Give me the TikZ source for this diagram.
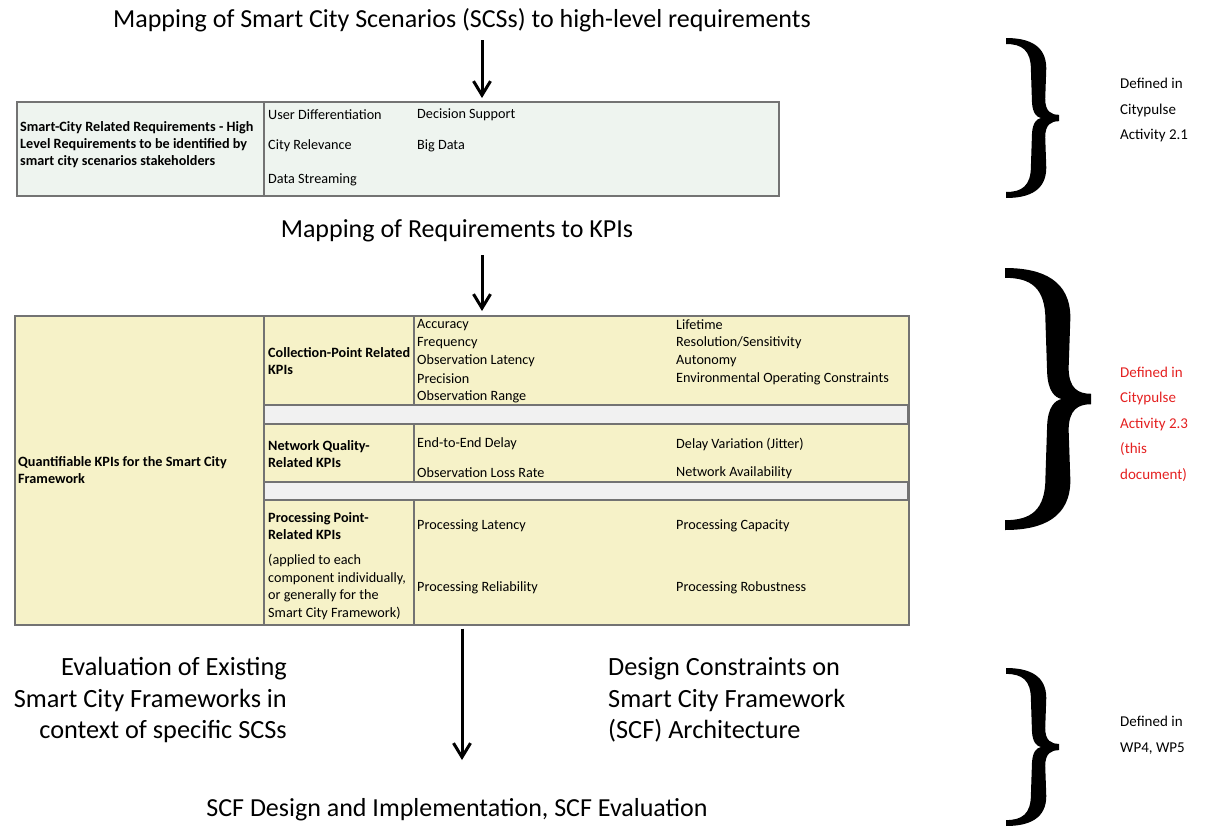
\documentclass[tikz,border=0pt]{standalone}
\usepackage{fontspec}
\setmainfont{Carlito}
\usetikzlibrary{arrows.meta}

\definecolor{reqGreen}{RGB}{238,244,239}
\definecolor{kpiYellow}{RGB}{246,242,200}
\definecolor{gapGray}{RGB}{241,241,241}
\definecolor{noteRed}{RGB}{228,32,32}

\tikzstyle{reqBox} = [draw=black!55, fill=reqGreen, line width=1.5pt,
    rectangle, inner sep=0pt, anchor=north west]
\tikzstyle{kpiBox} = [draw=black!55, fill=kpiYellow, line width=1.5pt,
    rectangle, inner sep=0pt, anchor=north west]
\tikzstyle{gapBox} = [draw=black!55, fill=gapGray, line width=1.5pt]
\tikzstyle{rule} = [draw=black!55, line width=1.5pt]
\tikzstyle{item} = [inner sep=0pt, anchor=west,
    font=\fontsize{14.2}{17.5}\selectfont]
\tikzstyle{heading} = [inner sep=0pt, anchor=west, align=left,
    font=\bfseries\fontsize{14.2}{17}\selectfont]
\tikzstyle{caption} = [inner sep=0pt, font=\fontsize{26}{31}\selectfont]
\tikzstyle{stage} = [inner sep=0pt, font=\fontsize{26.3}{31.5}\selectfont]
\tikzstyle{note} = [inner sep=0pt, anchor=west, align=left,
    font=\fontsize{15}{25.5}\selectfont]
\tikzstyle{flow} = [-{Straight Barb[length=14pt,width=17pt]}, line width=3pt]

\tikzset{curly/.pic={
  \fill (0,1) .. controls (0.45,1) and (0.76,0.9) .. (0.76,0.62)
    -- (0.74,0.24) .. controls (0.74,0.08) and (0.85,0.04) .. (1,0.04)
    -- (1,-0.04) .. controls (0.85,-0.04) and (0.74,-0.08) .. (0.74,-0.24)
    -- (0.76,-0.62) .. controls (0.76,-0.9) and (0.45,-1) .. (0,-1)
    -- (0,-0.925) .. controls (0.3,-0.925) and (0.47,-0.85) .. (0.47,-0.6)
    -- (0.49,-0.2) .. controls (0.5,-0.06) and (0.58,-0.01) .. (0.66,0)
    .. controls (0.58,0.01) and (0.5,0.06) .. (0.49,0.2)
    -- (0.47,0.6) .. controls (0.47,0.85) and (0.3,0.925) .. (0,0.925)
    -- cycle;
}}

\begin{document}
\begin{tikzpicture}[x=1pt,y=-1pt]
\useasboundingbox (0,0) rectangle (1226,825);

% stage captions
\node[caption] (MapSCS) at (462,20) {Mapping of Smart City Scenarios (SCSs) to high-level requirements};
\node[caption] (MapKPI) at (457,231) {Mapping of Requirements to KPIs};
\node[stage, anchor=east, align=right] (EvalSCF) at (287,700)
  {Evaluation of Existing\\Smart City Frameworks in\\context of specific SCSs};
\node[stage, anchor=west, align=left] (DesignSCF) at (608,700)
  {Design Constraints on\\Smart City Framework\\(SCF) Architecture};
\node[caption] (ImplSCF) at (457,810) {SCF Design and Implementation, SCF Evaluation};

% requirements table
\node[reqBox, minimum width=762pt, minimum height=94pt] (ReqBox) at (16,101) {};
\draw[rule] (264,101) -- (264,195);
\node[heading] (ReqHead) at (20,145) {Smart-City Related Requirements - High\\Level Requirements to be identified by\\smart city scenarios stakeholders};
  \node[item] (UserDiff) at (268,115) {User Differentiation};
  \node[item] (DecSupport) at (417,115) {Decision Support};
  \node[item] (CityRel) at (268,146) {City Relevance};
  \node[item] (BigData) at (417,146) {Big Data};
  \node[item] (DataStream) at (268,180) {Data Streaming};

% KPI table
\node[kpiBox, minimum width=894pt, minimum height=309pt] (KpiBox) at (14,315) {};
\draw[gapBox] (264,405) rectangle (908,424);
\draw[gapBox] (264,482) rectangle (908,500);
\draw[rule] (264,315) -- (264,624);
\draw[rule] (414,315) -- (414,405);
\draw[rule] (414,424) -- (414,482);
\draw[rule] (414,500) -- (414,624);
\node[heading] (KpiHead) at (18,470) {Quantifiable KPIs for the Smart City\\Framework};
  \node[heading] (CollHead) at (268,361) {Collection-Point Related\\KPIs};
    \node[item] (Accuracy) at (417,325) {Accuracy};
    \node[item] (Frequency) at (417,343) {Frequency};
    \node[item] (ObsLatency) at (417,361) {Observation Latency};
    \node[item] (Precision) at (417,379) {Precision};
    \node[item] (ObsRange) at (417,397) {Observation Range};
    \node[item] (Lifetime) at (676,325) {Lifetime};
    \node[item] (Resolution) at (676,343) {Resolution/Sensitivity};
    \node[item] (Autonomy) at (676,361) {Autonomy};
    \node[item] (EnvConstr) at (676,379) {Environmental Operating Constraints};
  \node[heading] (NetHead) at (268,454) {Network Quality-\\Related KPIs};
    \node[item] (EndDelay) at (417,444) {End-to-End Delay};
    \node[item] (Jitter) at (676,444) {Delay Variation (Jitter)};
    \node[item] (LossRate) at (417,473) {Observation Loss Rate};
    \node[item] (NetAvail) at (676,473) {Network Availability};
  \node[heading] (ProcHead) at (268,526) {Processing Point-\\Related KPIs};
  \node[item, align=left] (ProcNote) at (268,587) {(applied to each\\component individually,\\or generally for the\\Smart City Framework)};
    \node[item] (ProcLatency) at (417,526) {Processing Latency};
    \node[item] (ProcCapacity) at (676,526) {Processing Capacity};
    \node[item] (ProcRelia) at (417,588) {Processing Reliability};
    \node[item] (ProcRobust) at (676,588) {Processing Robustness};

% flow arrows
\coordinate (ArrowA) at (482,40);
\coordinate (ArrowB) at (482,255);
\coordinate (ArrowC) at (462,760);
\draw[flow, shorten >=3pt] (ArrowA) -- (ArrowA |- ReqBox.north);
\draw[flow, shorten >=4pt] (ArrowB) -- (ArrowB |- KpiBox.north);
\draw[flow, shorten <=3pt] (ArrowC |- KpiBox.south) -- (ArrowC);

% braces and where things are defined
\pic[xscale=53, yscale=80] (BraceA) at (1006,118) {curly};
\pic[xscale=86, yscale=131] (BraceB) at (1005,399) {curly};
\pic[xscale=53, yscale=79] (BraceC) at (1006,747) {curly};
\node[note] (DefA) at (1120,110) {Defined in\\Citypulse\\Activity 2.1};
\node[note, text=noteRed] (DefB) at (1120,424) {Defined in\\Citypulse\\Activity 2.3\\(this\\document)};
\node[note] (DefC) at (1120,735) {Defined in\\WP4, WP5};
\end{tikzpicture}
\end{document}
